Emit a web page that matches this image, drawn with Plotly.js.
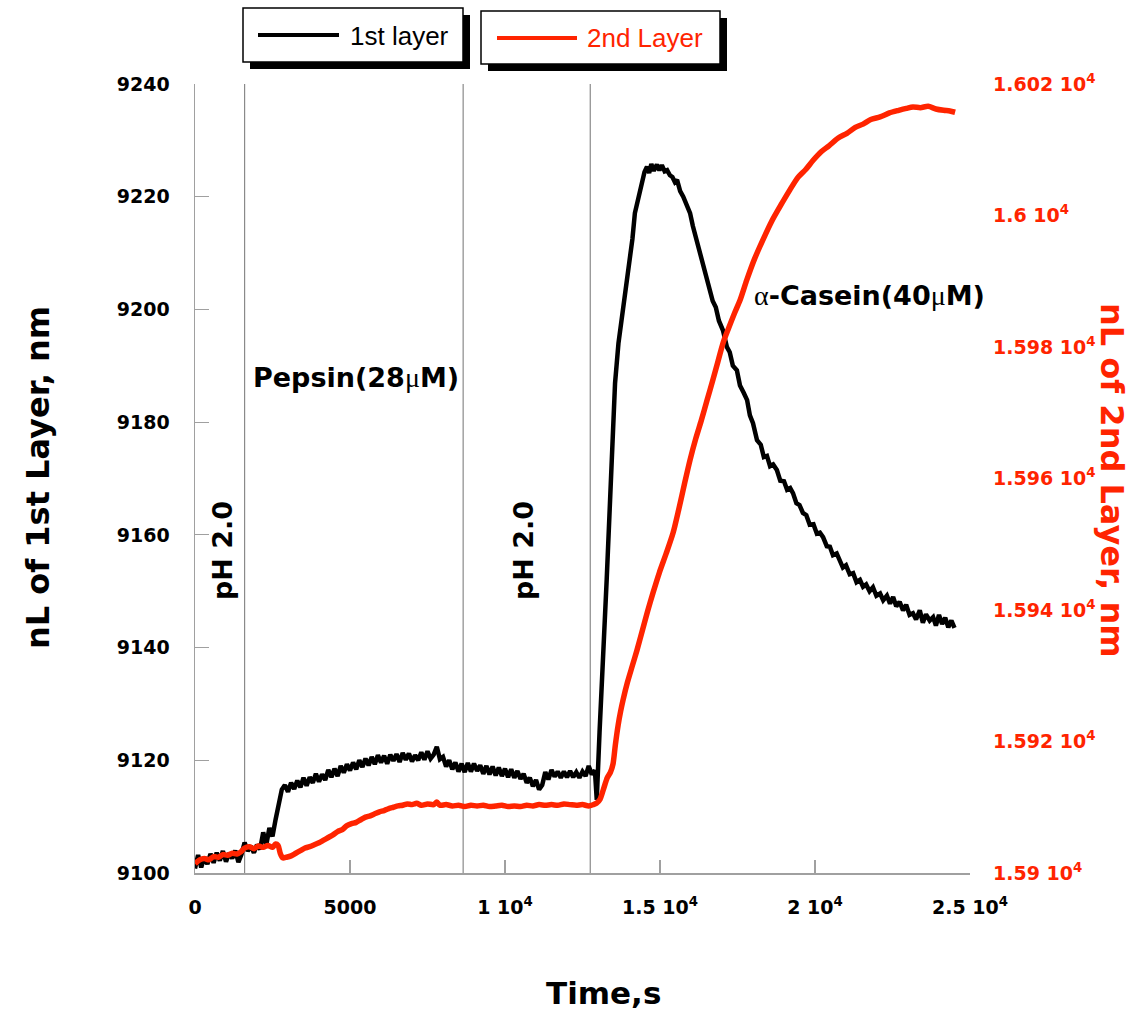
<!DOCTYPE html>
<html>
<head>
<meta charset="utf-8">
<script src="https://cdn.plot.ly/plotly-3.0.1.min.js"></script>
<style>html,body{margin:0;padding:0;background:#fff}#chart{width:1132px;height:1012px}</style>
</head>
<body>
<div id="chart"></div>
<script>
// ---- data ----
const time1 = [0,100,200,300,400,500,600,700,800,900,1000,1100,1200,1300,1400,1500,1600,1700,1800,1900,2000,2100,2200,2300,2400,2500,2600,2700,2800,2900,3000,3100,3200,3300,3400,3500,3600,3700,3800,3900,4000,4100,4200,4300,4400,4500,4600,4700,4800,4900,5000,5100,5200,5300,5400,5500,5600,5700,5800,5900,6000,6100,6200,6300,6400,6500,6600,6700,6800,6900,7000,7100,7200,7300,7400,7500,7600,7700,7800,7900,8000,8100,8200,8300,8400,8500,8600,8700,8800,8900,9000,9100,9200,9300,9400,9500,9600,9700,9800,9900,10000,10100,10200,10300,10400,10500,10600,10700,10800,10900,11000,11100,11200,11300,11400,11500,11600,11700,11800,11900,12000,12100,12200,12300,12400,12500,12600,12700,12800,12900,12960,13050,13160,13280,13390,13470,13550,13660,13775,13870,13950,14030,14110,14190,14300,14420,14500,14580,14650,14720,14800,14900,14980,15060,15150,15230,15320,15400,15480,15550,15650,15750,15850,15970,16060,16130,16210,16290,16380,16450,16530,16610,16700,16800,16900,17030,17160,17250,17350,17480,17580,17700,17810,17900,18000,18130,18250,18350,18450,18550,18650,18770,18880,19000,19100,19200,19290,19400,19500,19610,19720,19830,19950,20060,20160,20260,20380,20480,20580,20700,20810,20900,21000,21120,21230,21340,21450,21550,21650,21760,21870,21980,22100,22200,22320,22420,22520,22620,22730,22840,22940,23050,23160,23260,23380,23480,23580,23700,23810,23900,24000,24100,24200,24300,24400,24500];
const nL1 = [9100.8,9103.2,9101.0,9102.8,9101.6,9103.4,9101.8,9103.6,9102.2,9103.9,9102.0,9103.5,9102.6,9104.0,9101.9,9103.3,9105.4,9103.9,9104.8,9103.6,9105.0,9104.2,9107.2,9105.0,9108.0,9106.5,9109.5,9112.0,9114.8,9115.6,9114.4,9116.0,9114.9,9116.4,9115.2,9116.9,9115.5,9117.0,9116.0,9117.6,9116.2,9117.5,9116.5,9118.3,9117.0,9118.5,9117.2,9119.0,9117.8,9119.3,9118.2,9119.6,9118.4,9120.0,9118.8,9120.3,9119.1,9120.6,9119.3,9120.9,9119.6,9120.8,9119.4,9121.0,9119.9,9121.1,9119.7,9121.3,9120.1,9121.2,9119.8,9120.9,9120.0,9121.4,9120.1,9121.6,9120.3,9121.0,9122.4,9120.2,9120.6,9118.9,9120.0,9118.4,9119.6,9118.0,9119.4,9117.9,9119.5,9118.0,9119.4,9118.1,9119.1,9117.6,9119.0,9117.5,9118.9,9117.3,9118.7,9117.2,9118.5,9117.0,9118.4,9116.9,9118.1,9116.7,9117.6,9116.0,9116.9,9115.4,9116.5,9114.8,9115.6,9117.9,9116.6,9118.3,9117.1,9118.0,9116.9,9118.0,9117.0,9118.1,9117.0,9117.9,9116.9,9118.0,9117.2,9119.0,9117.5,9118.2,9113.0,9125.0,9136.5,9152.0,9166.2,9177.5,9186.9,9194.0,9198.7,9201.7,9205.0,9208.2,9212.5,9217.1,9220.0,9223.0,9224.4,9225.3,9224.2,9225.8,9224.6,9225.7,9224.7,9225.6,9224.5,9224.7,9223.8,9223.5,9222.6,9223.0,9221.0,9220.0,9218.6,9217.1,9214.8,9213.3,9211.9,9210.0,9208.3,9206.2,9205.0,9203.4,9201.5,9200.4,9198.0,9196.3,9193.3,9192.4,9190.0,9189.2,9186.5,9185.2,9183.9,9181.2,9179.8,9176.8,9176.0,9173.8,9174.0,9172.2,9172.5,9171.5,9169.6,9169.5,9168.0,9168.3,9167.4,9165.6,9165.3,9163.9,9163.5,9161.8,9161.9,9160.2,9160.4,9159.6,9158.0,9157.9,9156.4,9156.7,9155.5,9154.2,9154.6,9153.0,9153.2,9151.6,9152.0,9150.8,9151.2,9150.0,9150.7,9149.2,9149.6,9148.4,9149.2,9147.8,9149.0,9147.3,9148.1,9146.6,9147.6,9145.8,9146.1,9145.0,9146.6,9144.4,9145.9,9144.8,9145.4,9143.9,9145.8,9144.2,9145.3,9143.6,9144.8,9143.5];

const time2 = [0,150,300,450,600,750,900,1050,1200,1350,1500,1600,1750,1900,2050,2200,2350,2500,2600,2680,2750,2830,2950,3100,3250,3400,3550,3700,3850,4000,4150,4300,4450,4600,4750,4900,5050,5200,5350,5500,5650,5800,5950,6100,6250,6400,6550,6700,6850,7000,7150,7300,7500,7700,7800,7900,8100,8300,8500,8700,8900,9100,9300,9500,9700,9900,10100,10300,10500,10700,10900,11100,11300,11500,11700,11900,12100,12300,12500,12700,12850,12950,13065,13180,13300,13400,13485,13560,13650,13730,13807,13950,14100,14258,14420,14600,14774,14980,15200,15420,15600,15800,15968,16150,16330,16517,16700,16870,17033,17200,17400,17581,17800,18050,18320,18600,18900,19190,19450,19700,19940,20200,20450,20750,21030,21300,21550,21800,22100,22400,22700,22950,23160,23400,23650,23900,24150,24350,24520];
const nL2 = [15901.4,15902.0,15902.2,15902.0,15902.5,15902.4,15902.8,15902.7,15903.0,15902.9,15903.3,15903.8,15904.0,15903.7,15904.1,15903.9,15904.2,15903.9,15904.4,15904.2,15903.0,15902.3,15902.4,15902.6,15903.0,15903.4,15903.8,15904.0,15904.3,15904.6,15905.0,15905.4,15905.8,15906.3,15906.6,15907.2,15907.5,15907.7,15908.1,15908.5,15908.7,15909.0,15909.3,15909.5,15909.8,15910.0,15910.2,15910.3,15910.5,15910.4,15910.6,15910.3,15910.5,15910.4,15910.8,15910.3,15910.4,15910.2,15910.3,15910.1,15910.3,15910.2,15910.3,15910.1,15910.2,15910.3,15910.1,15910.2,15910.1,15910.3,15910.2,15910.4,15910.3,15910.4,15910.3,15910.5,15910.4,15910.3,15910.4,15910.2,15910.4,15910.6,15911.2,15912.8,15914.5,15915.3,15916.6,15919.5,15922.5,15924.6,15926.3,15929.0,15931.4,15933.9,15936.7,15939.8,15942.6,15945.7,15948.6,15951.7,15955.2,15959.4,15962.8,15966.0,15968.8,15971.9,15974.9,15977.8,15980.6,15982.7,15985.1,15987.1,15990.2,15993.4,15996.3,15999.1,16001.6,16003.9,16005.8,16007.0,16008.4,16009.7,16010.6,16011.8,16012.5,16013.4,16013.9,16014.6,16015.0,16015.6,16016.0,16016.3,16016.5,16016.4,16016.6,16016.2,16016.0,16015.9,16015.7];

const eventTimes = [1600, 8650, 12750];

const xTickVals = [0, 5000, 10000, 15000, 20000, 25000];
const xTickText = ['0', '5000', '1 10<sup>4</sup>', '1.5 10<sup>4</sup>', '2 10<sup>4</sup>', '2.5 10<sup>4</sup>'];
const y1TickVals = [9100, 9120, 9140, 9160, 9180, 9200, 9220, 9240];
const y1TickText = ['9100', '9120', '9140', '9160', '9180', '9200', '9220', '9240'];
const y2TickVals = [15900, 15920, 15940, 15960, 15980, 16000, 16020];
const y2TickText = ['1.59 10<sup>4</sup>', '1.592 10<sup>4</sup>', '1.594 10<sup>4</sup>', '1.596 10<sup>4</sup>', '1.598 10<sup>4</sup>', '1.6 10<sup>4</sup>', '1.602 10<sup>4</sup>'];

const seriesNames = ['1st layer', '2nd Layer'];

// ---- layout helpers ----
const W = 1132, H = 1012;
const L = 195, R = 970, T = 84, B = 873;
const px = x => (x - L) / (R - L);
const py = y => (B - y) / (B - T);
const RED = '#ff2400';
const AX = '#a0a0a0';
const BOLD = 'DejaVu Sans, Verdana, sans-serif';
const serif = s => '<span style="font-family:\'Liberation Serif\',serif;font-weight:normal;font-size:28px">' + s + '</span>';

const traces = [
  {x: time1, y: nL1, type: 'scatter', mode: 'lines', name: seriesNames[0],
   line: {color: '#000000', width: 4.5}, yaxis: 'y'},
  {x: time2, y: nL2, type: 'scatter', mode: 'lines', name: seriesNames[1],
   line: {color: RED, width: 5.5, shape: 'spline', smoothing: 0.7}, yaxis: 'y2'}
];

const shapes = [];
eventTimes.forEach(t => shapes.push({type: 'line', xref: 'x', yref: 'paper', x0: t, x1: t, y0: 0, y1: 1,
  line: {color: '#8a8a8a', width: 1.2}, layer: 'below'}));

function legendBox(x0, y0, x1, y1) {
  const s = 7;
  shapes.push({type: 'rect', xref: 'paper', yref: 'paper', x0: px(x0 + s), x1: px(x1 + s), y0: py(y0 + s), y1: py(y1 + s),
    fillcolor: '#000', line: {width: 0}});
  shapes.push({type: 'rect', xref: 'paper', yref: 'paper', x0: px(x0), x1: px(x1), y0: py(y0), y1: py(y1),
    fillcolor: '#fff', line: {color: '#000', width: 1.5}});
}
legendBox(243, 8, 463, 62);
legendBox(481, 11, 720, 64);
shapes.push({type: 'line', xref: 'paper', yref: 'paper', x0: px(258), x1: px(339), y0: py(35), y1: py(35), line: {color: '#000', width: 4}});
shapes.push({type: 'line', xref: 'paper', yref: 'paper', x0: px(497), x1: px(577), y0: py(38), y1: py(38), line: {color: RED, width: 4}});

const ann = (text, x, y, opts) => Object.assign({text: text, xref: 'paper', yref: 'paper', x: px(x), y: py(y),
  showarrow: false, xanchor: 'center', yanchor: 'middle'}, opts);

const annotations = [
  ann(seriesNames[0], 348, 36, {xanchor: 'left', font: {family: 'Liberation Sans, Arial, sans-serif', size: 26, color: '#000'}}),
  ann(seriesNames[1], 585, 38, {xanchor: 'left', font: {family: 'Liberation Sans, Arial, sans-serif', size: 26, color: RED}}),
  ann('Pepsin(28' + serif('μ') + 'M)', 251, 377, {xanchor: 'left', font: {family: BOLD, size: 27, color: '#000', weight: 'bold'}}),
  ann(serif('α') + '-Casein(40' + serif('μ') + 'M)', 752, 295, {xanchor: 'left', font: {family: BOLD, size: 27, color: '#000', weight: 'bold'}}),
  ann('pH 2.0', 222, 551, {textangle: -90, font: {family: BOLD, size: 27, color: '#000', weight: 'bold'}}),
  ann('pH 2.0', 523, 551, {textangle: -90, font: {family: BOLD, size: 27, color: '#000', weight: 'bold'}}),
  ann('nL of 1st Layer, nm', 38, 478, {textangle: -90, font: {family: BOLD, size: 32, color: '#000', weight: 'bold'}}),
  ann('nL of 2nd Layer, nm', 1112, 480, {textangle: 90, font: {family: BOLD, size: 32, color: RED, weight: 'bold'}}),
  ann('Time,s', 603, 993, {font: {family: BOLD, size: 31, color: '#000', weight: 'bold'}})
];

const tickFont = c => ({family: BOLD, size: 19, color: c, weight: 'bold'});

const layout = {
  width: W, height: H,
  margin: {l: L, r: W - R, t: T, b: H - B, pad: 0},
  paper_bgcolor: '#fff', plot_bgcolor: '#fff',
  showlegend: false,
  xaxis: {range: [0, 25000], tickmode: 'array', tickvals: xTickVals, ticktext: xTickText,
    ticks: 'inside', ticklen: 13, tickwidth: 1.2, tickcolor: AX, showline: true, linecolor: AX, linewidth: 1.5,
    showgrid: false, zeroline: false, tickfont: tickFont('#000'), ticklabelstandoff: 17, automargin: false},
  yaxis: {range: [9100, 9240], tickmode: 'array', tickvals: y1TickVals, ticktext: y1TickText,
    ticks: 'inside', ticklen: 14, tickwidth: 1.2, tickcolor: AX, showline: true, linecolor: AX, linewidth: 1.5,
    showgrid: false, zeroline: false, tickfont: tickFont('#000'), ticklabelstandoff: 20, automargin: false},
  yaxis2: {range: [15900, 16020], overlaying: 'y', side: 'right', tickmode: 'array', tickvals: y2TickVals, ticktext: y2TickText,
    ticks: '', showline: false, showgrid: false, zeroline: false, tickfont: tickFont(RED), ticklabelstandoff: 22, automargin: false},
  shapes: shapes,
  annotations: annotations
};

Plotly.newPlot('chart', traces, layout, {displayModeBar: false, staticPlot: true});
</script>
</body>
</html>
